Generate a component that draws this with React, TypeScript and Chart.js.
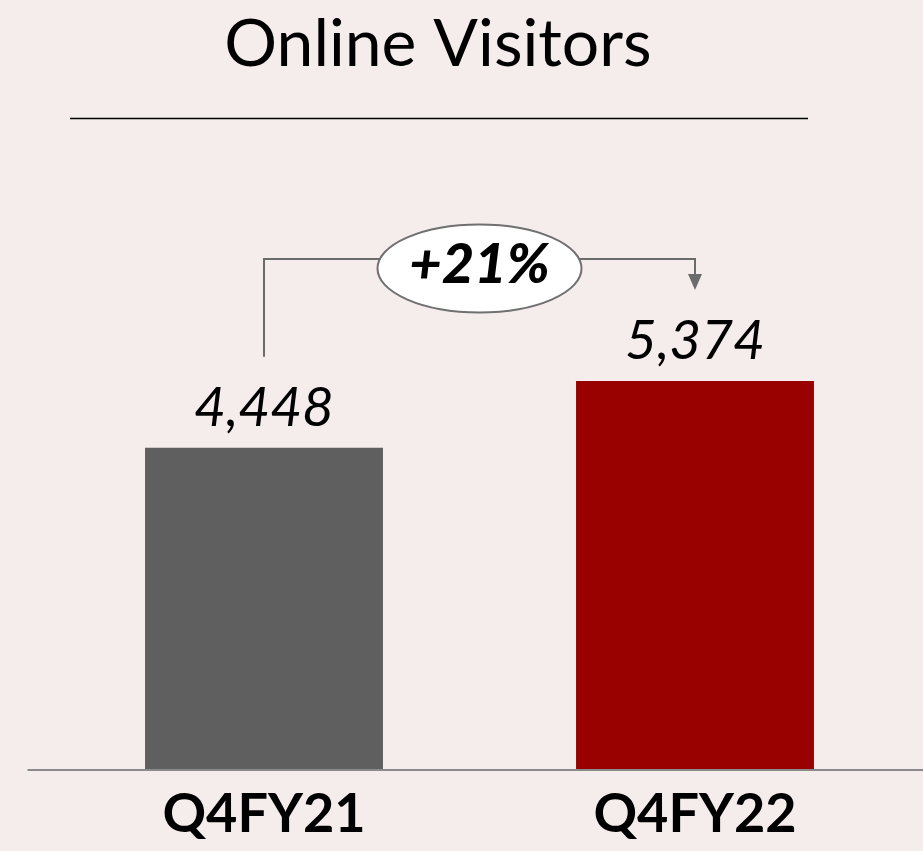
import React, { useEffect, useRef } from "react";
import { Chart, registerables } from "chart.js";

Chart.register(...registerables);

const TITLE = "Online Visitors";
const CATEGORIES = ["Q4FY21", "Q4FY22"];
const VALUES = [4448, 5374];
const VALUE_LABELS = ["4,448", "5,374"];
const BAR_COLORS = ["#5f5f5f", "#990000"];
const GROWTH_LABEL = "+21%";

const BG = "#f5edeb";
const FONT = "Lato, 'Open Sans', sans-serif";

const overlay = {
  id: "overlay",
  beforeDraw(chart: any) {
    const { ctx, width, height } = chart;
    ctx.save();
    ctx.fillStyle = BG;
    ctx.fillRect(0, 0, width, height);
    ctx.restore();
  },
  afterDatasetsDraw(chart: any) {
    const { ctx, chartArea, width } = chart;
    const xs = chart.scales.x;
    const ys = chart.scales.y;
    ctx.save();

    // Title
    ctx.fillStyle = "#000";
    ctx.font = `400 66px ${FONT}`;
    ctx.textAlign = "center";
    ctx.textBaseline = "alphabetic";
    ctx.fillText(TITLE, 438, 66);
    ctx.strokeStyle = "#000";
    ctx.lineWidth = 1.5;
    ctx.beginPath();
    ctx.moveTo(70, 118.5);
    ctx.lineTo(808, 118.5);
    ctx.stroke();

    // Axis line
    ctx.strokeStyle = "#8a8a8a";
    ctx.lineWidth = 2;
    ctx.beginPath();
    ctx.moveTo(chartArea.left - 21, chartArea.bottom + 1);
    ctx.lineTo(width, chartArea.bottom + 1);
    ctx.stroke();

    // Value labels
    ctx.fillStyle = "#000";
    ctx.font = `italic 400 55px ${FONT}`;
    VALUES.forEach((v, i) => {
      const x = xs.getPixelForValue(i);
      const y = ys.getPixelForValue(v);
      ctx.fillText(VALUE_LABELS[i], x, y - 22);
    });

    // Growth connector
    const xL = xs.getPixelForValue(0);
    const xR = xs.getPixelForValue(1);
    const yL = ys.getPixelForValue(VALUES[0]) - 91;
    const yR = ys.getPixelForValue(VALUES[1]) - 91;
    const yTop = Math.min(ys.getPixelForValue(VALUES[0]), ys.getPixelForValue(VALUES[1])) - 122;
    ctx.strokeStyle = "#6b6b6b";
    ctx.lineWidth = 2;
    ctx.beginPath();
    ctx.moveTo(xL, yL);
    ctx.lineTo(xL, yTop);
    ctx.lineTo(xR, yTop);
    ctx.lineTo(xR, yR - 14);
    ctx.stroke();
    ctx.fillStyle = "#6b6b6b";
    ctx.beginPath();
    ctx.moveTo(xR - 7, yR - 16);
    ctx.lineTo(xR + 7, yR - 16);
    ctx.lineTo(xR, yR);
    ctx.closePath();
    ctx.fill();

    const cx = (xL + xR) / 2;
    const cy = yTop + 9.5;
    ctx.fillStyle = "#ffffff";
    ctx.strokeStyle = "#707070";
    ctx.lineWidth = 2;
    ctx.beginPath();
    ctx.ellipse(cx, cy, 102, 44, 0, 0, Math.PI * 2);
    ctx.fill();
    ctx.stroke();

    ctx.fillStyle = "#000";
    ctx.font = `italic 900 56px ${FONT}`;
    ctx.textAlign = "center";
    ctx.textBaseline = "alphabetic";
    ctx.fillText(GROWTH_LABEL, cx, cy + 15);

    ctx.restore();
  },
};

export default function App() {
  const ref = useRef<HTMLCanvasElement>(null);
  useEffect(() => {
    if (!ref.current) return;
    const chart = new Chart(ref.current, {
      type: "bar",
      data: {
        labels: CATEGORIES,
        datasets: [
          {
            data: VALUES,
            backgroundColor: BAR_COLORS,
            borderWidth: 0,
            barPercentage: 0.552,
            categoryPercentage: 1,
          },
        ],
      },
      options: {
        responsive: false,
        animation: false,
        devicePixelRatio: 1,
        layout: { padding: { left: 48.5, right: 12.5, top: 191.4, bottom: 12 } },
        plugins: { legend: { display: false }, tooltip: { enabled: false }, title: { display: false } },
        scales: {
          y: { display: false, min: 0, max: 8000 },
          x: {
            grid: { display: false, drawTicks: false },
            border: { display: false },
            ticks: {
              color: "#000",
              padding: 13,
              font: { family: FONT, size: 54, weight: "bold" },
            },
            afterFit: (s: any) => {
              s.height = 70;
            },
          },
        },
      },
      plugins: [overlay],
    });
    return () => chart.destroy();
  }, []);
  return (
    <div style={{ position: "absolute", left: 0, top: 0, width: 923, height: 851, background: BG }}>
      <canvas ref={ref} width={923} height={851} style={{ display: "block" }} />
    </div>
  );
}
